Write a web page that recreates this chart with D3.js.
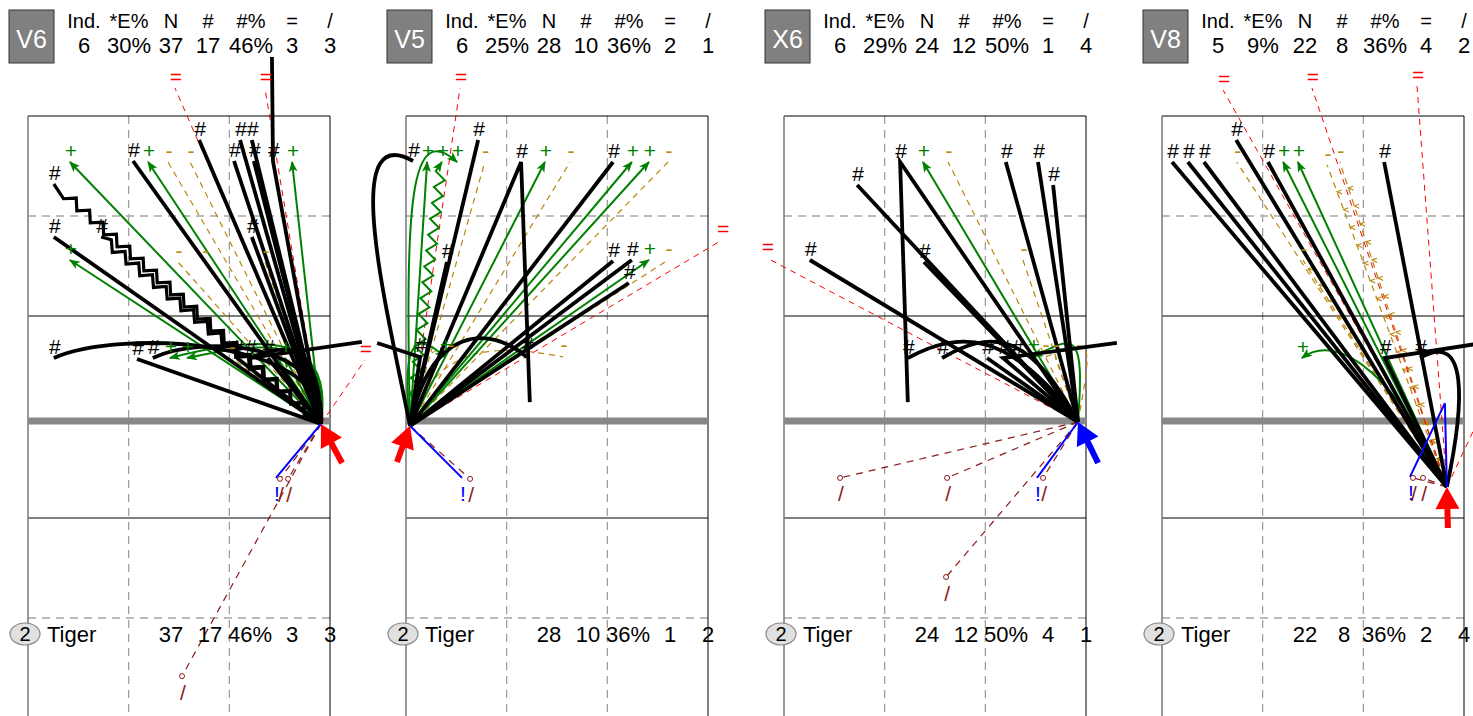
<!DOCTYPE html>
<html><head><meta charset="utf-8">
<script src="https://cdn.jsdelivr.net/npm/d3@7"></script>
<style>
body{margin:0;background:#fff;overflow:hidden}
svg{display:block}
text{font-family:"Liberation Sans",Arial,Helvetica,sans-serif}
</style>
</head><body>
<svg id="c" width="1473" height="716"></svg>
<script>
// ---------------- data ----------------
const codes = ["V6", "V5", "X6", "V8"];
const statLabels = ["Ind.", "*E%", "N", "#", "#%", "=", "/"];
const statValues = [
  ["6", "30%", "37", "17", "46%", "3", "3"],
  ["6", "25%", "28", "10", "36%", "2", "1"],
  ["6", "29%", "24", "12", "50%", "1", "4"],
  ["5", "9%", "22", "8", "36%", "4", "2"]
];
const playerNo = "2";
const playerName = "Tiger";
const playerRows = [
  ["37", "17", "46%", "3", "3"],
  ["28", "10", "36%", "1", "2"],
  ["24", "12", "50%", "4", "1"],
  ["22", "8", "36%", "2", "4"]
];
// attack start points (court metres: x across 0-9, y from far end line 0 -> own end 18)
const startPts = [[8.73, 9.09], [0.12, 9.15], [8.76, 9.03], [8.49, 11.04]];
const arrowTails = [[9.36, 10.3], [-0.27, 10.27], [9.36, 10.3], [8.52, 12.3]];
const arrowColors = ["#ff0000", "#ff0000", "#0000ff", "#ff0000"];

// [outcome, endX, endY, options]
const attacksV6 = [
  ["#", 0.77, 2.04, {zig: 1}], ["#", 2.18, 3.63, {zig: 1}], ["#", 0.77, 3.63], ["#", 3.13, 1.35],
  ["#", 5.10, 0.72], ["#", 6.32, 0.72], ["#", 6.67, 0.72], ["#", 6.14, 1.35], ["#", 6.73, 1.35],
  ["#", 7.30, 1.35, {tail: [7.27, -1.77]}], ["#", 6.67, 3.63],
  ["#", 0.77, 7.2, {c: [8.99, 6.69, 2.74, 6.34]}], ["#", 3.25, 7.23],
  ["#", 3.72, 7.2, {c: [8.99, 6.69, 5.13, 6.54]}], ["#", 6.23, 7.2],
  ["#", 6.62, 7.2, {c: [8.7, 6.83, 7.81, 6.69], tail: [9.95, 6.74]}], ["#", 7.15, 7.2],
  ["+", 1.25, 1.38], ["+", 3.58, 1.38], ["+", 7.87, 1.38], ["+", 1.25, 4.32],
  ["+", 4.23, 7.2, {c: [9.15, 6.4, 6.91, 6.54]}], ["+", 4.74, 7.2, {c: [9.0, 6.54, 7.21, 6.69]}], ["+", 7.66, 7.2],
  ["-", 4.17, 1.38], ["-", 4.83, 1.38], ["-", 4.47, 4.38], ["-", 5.27, 4.38], ["-", 7.06, 4.38], ["-", 6.08, 7.2],
  ["=", 4.38, -0.84], ["=", 7.06, -0.84], ["=", 10.04, 7.26],
  ["/", 7.51, 10.79], ["/", 7.75, 10.79], ["/", 4.59, 16.78],
  ["!", 7.39, 10.76]
];
const attacksV5 = [
  ["#", 0.21, 1.35, {c: [-0.63, 5.52, -1.97, 0.12]}], ["#", 2.15, 0.72], ["#", 3.43, 1.38, {tail: [3.69, 8.46]}],
  ["#", 6.17, 1.38], ["#", 1.22, 4.38], ["#", 6.17, 4.35], ["#", 6.73, 4.32], ["#", 6.64, 5.01],
  ["#", 0.42, 7.17, {tail: [-0.86, 6.77]}], ["#", 3.6, 7.17, {c: [0.72, 6.26, 2.5, 6.26]}],
  ["+", 0.63, 1.38], ["+", 1.07, 1.38, {zig: 1}], ["+", 1.52, 1.38, {c: [-0.03, 2.52, 0.12, 0.12]}],
  ["+", 4.14, 1.38], ["+", 6.73, 1.38], ["+", 7.24, 1.38], ["+", 7.24, 4.32],
  ["+", 1.16, 7.17, {c: [-0.18, 6.4, 0.42, 6.54]}],
  ["-", 2.35, 1.38], ["-", 4.89, 1.38], ["-", 7.81, 1.38], ["-", 7.81, 4.32],
  ["-", 1.31, 7.17, {c: [0.42, 6.69, 1.01, 6.83]}], ["-", 4.68, 7.17, {c: [0.89, 6.69, 2.8, 6.83]}],
  ["=", 1.61, -0.84], ["=", 9.42, 3.72],
  ["/", 1.91, 10.79],
  ["!", 1.67, 10.76]
];
const attacksX6 = [
  ["#", 3.46, 1.38, {tail: [3.69, 8.46]}], ["#", 6.61, 1.38], ["#", 7.57, 1.38], ["#", 8.02, 2.07],
  ["#", 2.18, 2.07], ["#", 0.77, 4.32], ["#", 4.17, 4.38],
  ["#", 3.69, 7.2, {c: [6.73, 6.4, 5.24, 6.4]}], ["#", 4.71, 7.2, {c: [7.33, 6.4, 6.14, 6.4]}],
  ["#", 6.05, 7.2], ["#", 6.53, 7.2, {tail: [9.92, 6.77]}], ["#", 6.94, 7.2],
  ["+", 4.14, 1.38], ["+", 7.42, 7.17, {c: [8.97, 6.4, 8.67, 6.54]}],
  ["-", 4.89, 1.38], ["-", 7.12, 4.32], ["-", 7.78, 7.17, {c: [9.27, 6.4, 9.12, 6.69]}], ["-", 8.08, 7.17],
  ["=", -0.51, 4.26],
  ["/", 1.67, 10.76], ["/", 4.86, 10.76], ["/", 7.72, 10.76], ["/", 4.83, 13.77],
  ["!", 7.54, 10.76]
];
const attacksV8 = [
  ["#", 0.30, 1.38], ["#", 0.77, 1.38], ["#", 1.25, 1.38], ["#", 2.21, 0.72], ["#", 3.16, 1.38], ["#", 6.62, 1.38],
  ["#", 6.64, 7.2, {tail: [9.77, 6.74]}], ["#", 7.69, 7.2, {c: [9.03, 8.43, 9.12, 6.4]}],
  ["+", 3.61, 1.38], ["+", 4.05, 1.38], ["+", 4.17, 7.2, {c: [7.09, 7.83, 5.3, 6.4]}],
  ["-", 2.23, 1.38], ["-", 4.92, 1.47, {chev: 1}], ["-", 5.3, 1.38, {chev: 1}], ["-", 4.2, 4.32, {chev: 1}],
  ["=", 1.82, -0.78], ["=", 4.47, -0.84], ["=", 7.6, -0.9], ["=", 10.4, 7.0],
  ["/", 7.48, 10.76], ["/", 7.78, 10.76],
  ["!", 7.39, 10.73, {via: [8.43, 8.49]}]
];
const allAttacks = [attacksV6, attacksV5, attacksX6, attacksV8];

// ---------------- drawing ----------------
const W = 1473;
const svg = d3.select("#c");
const defs = svg.append("defs");
defs.append("marker").attr("id", "ag").attr("viewBox", "0 0 10 10")
  .attr("refX", 9).attr("refY", 5).attr("markerWidth", 11).attr("markerHeight", 11)
  .attr("markerUnits", "userSpaceOnUse").attr("orient", "auto")
  .append("path").attr("d", "M0,1L10,5L0,9L2.5,5Z").attr("fill", "#008000");

const style = {
  "#": {stroke: "#000", w: 3.8, dash: null, col: "#000"},
  "+": {stroke: "#008000", w: 2, dash: null, col: "#008000"},
  "-": {stroke: "#b8860b", w: 1.2, dash: "6,5", col: "#b8860b"},
  "=": {stroke: "#ff0000", w: 1, dash: "6,5", col: "#ff0000"},
  "/": {stroke: "#8b1a1a", w: 1.2, dash: "7,6", col: "#8b1a1a"},
  "!": {stroke: "#0000ff", w: 2, dash: null, col: "#0000ff"}
};
const order = {"-": 0, "=": 1, "/": 2, "+": 3, "#": 4, "!": 5};
const yDom = [0, 3, 6, 9, 12, 15, 18];
const yRng = [116, 216, 316, 421, 518, 618, 716];
const statDx = [56, 101, 143, 180, 223, 264, 302];
const rowDx = [143, 182, 222, 264, 302];

codes.forEach((code, i) => {
  const x0 = 28 + i * 378;
  const x = d3.scaleLinear().domain([0, 9]).range([x0, x0 + 302]);
  const y = d3.scaleLinear().domain(yDom).range(yRng);
  const g = svg.append("g");

  // court
  const court = g.append("g");
  [3, 6].forEach(v => court.append("line").attr("x1", x(v)).attr("x2", x(v)).attr("y1", y(0)).attr("y2", y(18))
    .attr("stroke", "#999").attr("stroke-width", 1.2).attr("stroke-dasharray", "8,6"));
  [3, 15].forEach(v => court.append("line").attr("x1", x(0)).attr("x2", x(9)).attr("y1", y(v)).attr("y2", y(v))
    .attr("stroke", "#bbb").attr("stroke-width", 1.8).attr("stroke-dasharray", "8,6"));
  [0, 6, 12].forEach(v => court.append("line").attr("x1", x(0)).attr("x2", x(9)).attr("y1", y(v)).attr("y2", y(v))
    .attr("stroke", "#000").attr("stroke-width", 1));
  court.append("line").attr("x1", x(0)).attr("x2", x(0)).attr("y1", y(0)).attr("y2", y(18))
    .attr("stroke", "#777").attr("stroke-width", 1.5);
  court.append("line").attr("x1", x(9)).attr("x2", x(9)).attr("y1", y(0)).attr("y2", y(18))
    .attr("stroke", "#000").attr("stroke-width", 1);
  court.append("line").attr("x1", x(0)).attr("x2", x(9)).attr("y1", y(9)).attr("y2", y(9))
    .attr("stroke", "#888").attr("stroke-width", 7);

  // header
  g.append("rect").attr("x", x0 - 19).attr("y", 10).attr("width", 45).attr("height", 53)
    .attr("fill", "#808080").attr("stroke", "#333").attr("stroke-width", 1);
  g.append("text").attr("x", x0 + 3.5).attr("y", 48).attr("text-anchor", "middle")
    .attr("font-size", 25).attr("fill", "#fff").text(code);
  statLabels.forEach((s, k) => g.append("text").attr("x", x0 + statDx[k]).attr("y", 28)
    .attr("text-anchor", "middle").attr("font-size", 20).text(s));
  statValues[i].forEach((s, k) => g.append("text").attr("x", x0 + statDx[k]).attr("y", 53)
    .attr("text-anchor", "middle").attr("font-size", 22).text(s));

  // attacks
  const S = [x(startPts[i][0]), y(startPts[i][1])];
  const data = allAttacks[i].map(a => ({t: a[0], e: [x(a[1]), y(a[2])], o: a[3] || {}}))
    .sort((a, b) => order[a.t] - order[b.t]);
  const lines = g.append("g");
  data.forEach(d => {
    const st = style[d.t];
    const p = d3.path();
    p.moveTo(S[0], S[1]);
    if (d.o.c) {
      const c = d.o.c;
      p.bezierCurveTo(x(c[0]), y(c[1]), x(c[2]), y(c[3]), d.e[0], d.e[1]);
    } else if (d.o.via) {
      p.lineTo(x(d.o.via[0]), y(d.o.via[1]));
      p.lineTo(d.e[0], d.e[1]);
    } else if (d.o.zig) {
      const dx = d.e[0] - S[0], dy = d.e[1] - S[1], L = Math.hypot(dx, dy);
      const ux = dx / L, uy = dy / L, nx = -uy, ny = ux;
      const step = d.t === "#" ? 9 : 8, amp = d.t === "#" ? 4.5 : 5;
      const n = Math.floor(L / step);
      for (let k = 1; k < n; k++) {
        const s = (k % 2 ? 1 : -1) * amp;
        p.lineTo(S[0] + ux * k * step + nx * s, S[1] + uy * k * step + ny * s);
      }
      p.lineTo(d.e[0], d.e[1]);
    } else {
      p.lineTo(d.e[0], d.e[1]);
    }
    if (d.o.tail) p.lineTo(x(d.o.tail[0]), y(d.o.tail[1]));
    const el = lines.append("path").attr("d", p.toString()).attr("fill", "none")
      .attr("stroke", st.stroke).attr("stroke-width", d.o.zig && d.t === "#" ? 3.2 : st.w)
      .attr("stroke-linejoin", "miter");
    if (st.dash) el.attr("stroke-dasharray", st.dash);
    if (d.t === "+") el.attr("marker-end", "url(#ag)");
    if (d.o.chev) {
      const dx = d.e[0] - S[0], dy = d.e[1] - S[1], L = Math.hypot(dx, dy);
      const ux = dx / L, uy = dy / L, nx = -uy, ny = ux;
      for (let s = 30; s < L - 10; s += 19) {
        const px = S[0] + ux * s, py = S[1] + uy * s;
        lines.append("path")
          .attr("d", `M${px - ux * 4 + nx * 4},${py - uy * 4 + ny * 4}L${px},${py}L${px + nx * 5},${py + ny * 5}`)
          .attr("fill", "none").attr("stroke", st.stroke).attr("stroke-width", 1.1);
      }
    }
  });

  // end markers & labels (only those whose label falls inside the picture)
  const labs = g.append("g");
  data.forEach(d => {
    const st = style[d.t];
    if (d.t === "/") {
      labs.append("circle").attr("cx", d.e[0]).attr("cy", d.e[1]).attr("r", 2.5)
        .attr("fill", "#fff").attr("stroke", st.col).attr("stroke-width", 1);
    }
    if (d.e[0] + 8 > W) return;
    const below = d.t === "/" || d.t === "!";
    labs.append("text").attr("x", d.e[0] + 1).attr("y", below ? d.e[1] + 16 : d.e[1] - 12)
      .attr("dominant-baseline", "central").attr("text-anchor", "middle")
      .attr("font-size", 21).attr("fill", st.col).text(d.t);
  });

  // start arrow
  const T = [x(arrowTails[i][0]), y(arrowTails[i][1])];
  const dx = S[0] - T[0], dy = S[1] - T[1], L = Math.hypot(dx, dy);
  const ux = dx / L, uy = dy / L, nx = -uy, ny = ux;
  const hl = 22, hw = 12;
  const bx = S[0] - ux * hl, by = S[1] - uy * hl;
  g.append("line").attr("x1", T[0]).attr("y1", T[1]).attr("x2", bx + ux * 2).attr("y2", by + uy * 2)
    .attr("stroke", arrowColors[i]).attr("stroke-width", 6);
  g.append("path").attr("d", `M${S[0]},${S[1]}L${bx + nx * hw},${by + ny * hw}L${bx - nx * hw},${by - ny * hw}Z`)
    .attr("fill", arrowColors[i]);

  // player row
  const pr = g.append("g");
  pr.append("ellipse").attr("cx", x0 - 3).attr("cy", 634).attr("rx", 15).attr("ry", 11)
    .attr("fill", "#e0e0e0").attr("stroke", "#888").attr("stroke-width", 1.2);
  pr.append("text").attr("x", x0 - 3).attr("y", 641).attr("text-anchor", "middle")
    .attr("font-size", 20).text(playerNo);
  pr.append("text").attr("x", x0 + 19).attr("y", 642).attr("font-size", 22).text(playerName);
  playerRows[i].forEach((s, k) => pr.append("text").attr("x", x0 + rowDx[k]).attr("y", 642)
    .attr("text-anchor", "middle").attr("font-size", 22).text(s));
});
</script>
</body></html>
